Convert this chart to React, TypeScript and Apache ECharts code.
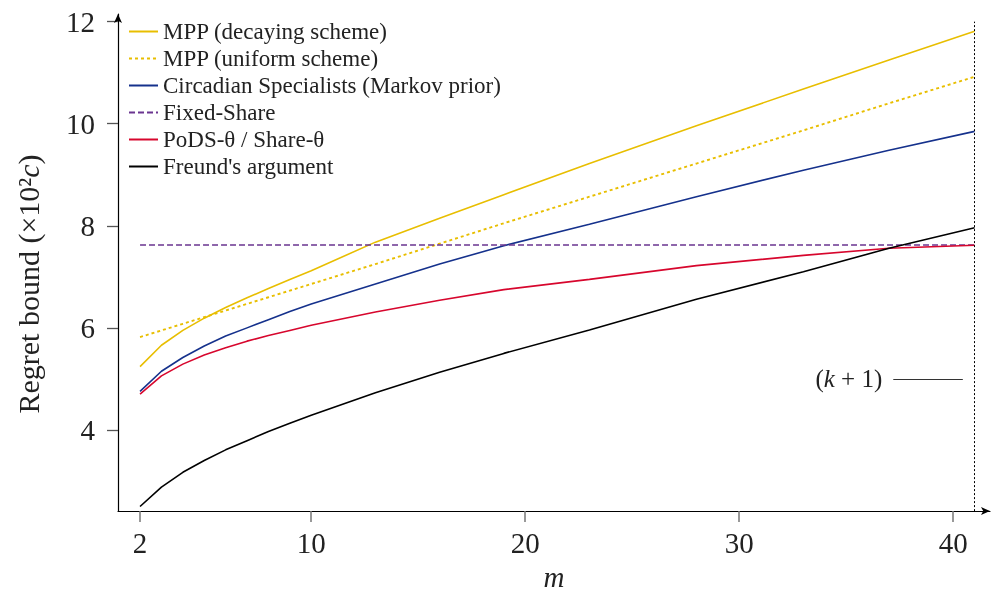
import React, { useEffect, useRef } from 'react';
import * as echarts from 'echarts';

// sample points along m
const M = [2, 3, 4, 5, 6, 7, 8, 9, 10, 13, 16, 19, 23, 28, 33, 37, 41];
const MPP_DECAY = [5.24, 5.66, 5.95, 6.19, 6.40, 6.59, 6.77, 6.95, 7.12, 7.68, 8.15, 8.61, 9.22, 9.96, 10.68, 11.25, 11.81];
const MPP_UNIFORM = [5.82, 5.95, 6.08, 6.21, 6.34, 6.47, 6.60, 6.73, 6.86, 7.25, 7.65, 8.05, 8.57, 9.22, 9.87, 10.40, 10.92];
const CIRCADIAN = [4.755, 5.15, 5.42, 5.645, 5.84, 6.0, 6.16, 6.32, 6.47, 6.86, 7.25, 7.61, 8.03, 8.57, 9.09, 9.48, 9.85];
const FIXED_SHARE = [7.625, 7.625, 7.625, 7.625, 7.625, 7.625, 7.625, 7.625, 7.625, 7.625, 7.625, 7.625, 7.625, 7.625, 7.625, 7.625, 7.625];
const PODS = [4.70, 5.06, 5.29, 5.47, 5.61, 5.74, 5.85, 5.95, 6.05, 6.31, 6.54, 6.75, 6.95, 7.22, 7.42, 7.56, 7.62];
const FREUND = [2.50, 2.88, 3.17, 3.40, 3.61, 3.79, 3.97, 4.13, 4.29, 4.73, 5.13, 5.50, 5.96, 6.56, 7.10, 7.56, 7.96];

const SERIES_NAMES = [
  'MPP (decaying scheme)',
  'MPP (uniform scheme)',
  'Circadian Specialists (Markov prior)',
  'Fixed-Share',
  'PoDS-θ / Share-θ',
  "Freund's argument",
];

const X_TICKS = [2, 10, 20, 30, 40];
const Y_TICKS = [4, 6, 8, 10, 12];
const X_MIN = 0.97;
const X_MAX = 41.72;
const Y_MIN = 2.41;
const Y_MAX = 12.15;

// annotation
const HORIZON = 41;
const HORIZON_TOP = 12;
const K1_LEVEL = 5;
const K1_FROM = 37.2;
const K1_TO = 40.45;

const FONT = '"Liberation Serif", "DejaVu Serif", serif';

const pairs = (ys: number[]) => M.map((m, i) => [m, ys[i]]);

export default function App() {
  const ref = useRef<HTMLDivElement>(null);
  useEffect(() => {
    const chart = echarts.init(ref.current!, null, { renderer: 'svg' });
    const mk = (name: string, data: number[], color: string, type: any, width = 1.6, extra: any = {}) => ({
      name,
      type: 'line',
      data: pairs(data),
      symbol: 'none',
      lineStyle: { color, width, type },
      itemStyle: { color },
      z: 3,
      ...extra,
    });
    const option: any = {
      animation: false,
      textStyle: { fontFamily: FONT },
      grid: { left: 118, right: 2, top: 14, bottom: 79, containLabel: false },
      legend: {
        orient: 'vertical',
        left: 123,
        top: 15,
        itemWidth: 29,
        itemHeight: 14,
        itemGap: 4,
        itemStyle: { opacity: 0 },
        textStyle: { fontFamily: FONT, fontSize: 23, lineHeight: 20, color: '#222' },
        data: SERIES_NAMES,
      },
      xAxis: {
        type: 'value',
        min: X_MIN,
        max: X_MAX,
        name: 'm',
        nameLocation: 'middle',
        nameGap: 50,
        nameTextStyle: { fontFamily: FONT, fontSize: 29, fontStyle: 'italic', color: '#222' },
        splitLine: { show: false },
        axisLine: { show: true, symbol: ['none', 'arrow'], symbolSize: [6, 9], lineStyle: { color: '#000', width: 1.2 } },
        axisTick: { show: true, customValues: X_TICKS, length: 11, lineStyle: { color: '#777', width: 1.5 } },
        axisLabel: { customValues: X_TICKS, margin: 17, fontFamily: FONT, fontSize: 29, color: '#222' },
      },
      yAxis: {
        type: 'value',
        min: Y_MIN,
        max: Y_MAX,
        splitLine: { show: false },
        axisLine: { show: true, symbol: ['none', 'arrow'], symbolSize: [6, 9], lineStyle: { color: '#000', width: 1.2 } },
        axisTick: { show: true, customValues: Y_TICKS, length: 11, lineStyle: { color: '#555', width: 1.3 } },
        axisLabel: { customValues: Y_TICKS, margin: 23, fontFamily: FONT, fontSize: 29, color: '#222' },
      },
      graphic: [
        {
          type: 'text',
          x: 28,
          y: 284,
          rotation: Math.PI / 2,
          style: {
            text: '{a|Regret bound (×10²}{i|c}{a|)}',
            textAlign: 'center',
            textVerticalAlign: 'middle',
            rich: {
              a: { fontFamily: FONT, fontSize: 30, fill: '#222' },
              i: { fontFamily: FONT, fontSize: 30, fontStyle: 'italic', fill: '#222' },
            },
          },
        },
      ],
      series: [
        mk(SERIES_NAMES[0], MPP_DECAY, '#E8BE00', 'solid'),
        mk(SERIES_NAMES[1], MPP_UNIFORM, '#E8BE00', [3, 3], 1.9),
        mk(SERIES_NAMES[2], CIRCADIAN, '#15318C', 'solid'),
        mk(SERIES_NAMES[3], FIXED_SHARE, '#6A3590', [6, 3], 1.6, {
          markLine: {
            silent: true,
            symbol: ['none', 'none'],
            data: [
              [
                { coord: [HORIZON, Y_MIN], lineStyle: { color: '#000', width: 1, type: [2, 2] }, label: { show: false } },
                { coord: [HORIZON, HORIZON_TOP] },
              ],
              [
                {
                  coord: [K1_FROM, K1_LEVEL],
                  lineStyle: { color: '#333', width: 1.2, type: 'solid' },
                  label: {
                    show: true,
                    position: 'start',
                    distance: 11,
                    formatter: '{p|(}{k|k}{p| + 1)}',
                    rich: {
                      p: { fontFamily: FONT, fontSize: 25, color: '#222' },
                      k: { fontFamily: FONT, fontSize: 25, fontStyle: 'italic', color: '#222' },
                    },
                  },
                },
                { coord: [K1_TO, K1_LEVEL] },
              ],
            ],
          },
        }),
        mk(SERIES_NAMES[4], PODS, '#D7062D', 'solid'),
        mk(SERIES_NAMES[5], FREUND, '#000000', 'solid'),
      ],
    };
    chart.setOption(option);
    return () => chart.dispose();
  }, []);
  return <div ref={ref} style={{ position: 'fixed', left: 0, top: 0, width: 992, height: 596 }} />;
}
